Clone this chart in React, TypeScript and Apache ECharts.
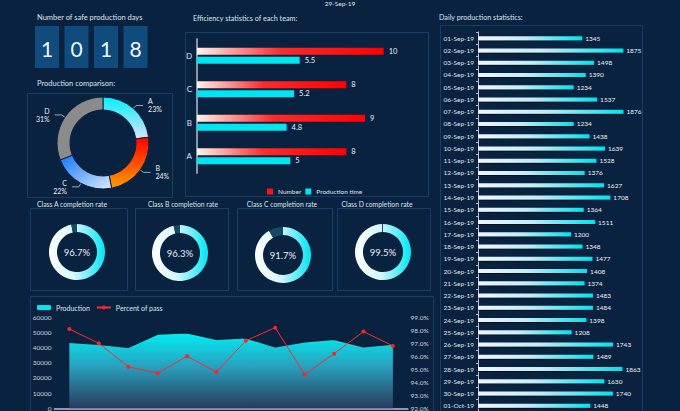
import React, { useEffect, useRef } from 'react';
import * as echarts from 'echarts';

const topDate = '29-Sep-19';
const safeDays = ['1', '0', '1', '8'];

const teams = ['A', 'B', 'C', 'D'];
const teamNumber = [8, 9, 8, 10];
const teamTime = [5, 4.8, 5.2, 5.5];

const shareNames = ['A', 'B', 'C', 'D'];
const shareValues = [23, 24, 22, 31];

const classTitles = ['Class A completion rate', 'Class B completion rate', 'Class C completion rate', 'Class D completion rate'];
const completionRates = [96.7, 96.3, 91.7, 99.5];

const dailyDates = [
  '01-Sep-19', '02-Sep-19', '03-Sep-19', '04-Sep-19', '05-Sep-19', '06-Sep-19', '07-Sep-19', '08-Sep-19',
  '09-Sep-19', '10-Sep-19', '11-Sep-19', '12-Sep-19', '13-Sep-19', '14-Sep-19', '15-Sep-19', '16-Sep-19',
  '17-Sep-19', '18-Sep-19', '19-Sep-19', '20-Sep-19', '21-Sep-19', '22-Sep-19', '23-Sep-19', '24-Sep-19',
  '25-Sep-19', '26-Sep-19', '27-Sep-19', '28-Sep-19', '29-Sep-19', '30-Sep-19', '01-Oct-19',
];
const dailyValues = [
  1345, 1875, 1498, 1390, 1234, 1537, 1876, 1234,
  1438, 1639, 1528, 1376, 1627, 1708, 1364, 1511,
  1200, 1348, 1477, 1408, 1374, 1483, 1484, 1398,
  1208, 1743, 1489, 1863, 1630, 1740, 1448,
];

const periods = ['Jan', 'Feb', 'Mar', 'Apr', 'May', 'Jun', 'Jul', 'Aug', 'Sep', 'Oct', 'Nov', 'Dec'];
const production = [43500, 42200, 40200, 49000, 49800, 45500, 46500, 40600, 43900, 45500, 40600, 42400];
const passRate = [98.1, 97.0, 95.2, 94.7, 96.0, 94.8, 97.2, 98.2, 94.6, 96.2, 97.9, 96.8];

const BG = '#09223f';
const BORDER = '#1c3d63';
const TXT = '#dde6f0';
const FONT = 'Lato, "Noto Sans", sans-serif';

const ringCenters: [number, number][] = [[77, 252], [180, 253], [283, 255], [383, 252]];
const titleX = [72, 183, 282, 377];

function panel(x: number, y: number, w: number, h: number) {
  return { type: 'rect', shape: { x, y, width: w, height: h }, style: { fill: 'none', stroke: BORDER, lineWidth: 1 }, silent: true };
}
function label(text: string, x: number, y: number, size = 7.5, align = 'left', color = TXT) {
  return { type: 'text', x, y, style: { text, fill: color, fontSize: size, fontFamily: FONT, align, verticalAlign: 'middle' }, silent: true };
}

export default function App() {
  const ref = useRef<HTMLDivElement>(null);
  useEffect(() => {
    document.body.style.margin = '0';
    const chart = echarts.init(ref.current!, null, { renderer: 'svg' });

    const graphics: any[] = [
      panel(27.5, 93.5, 145, 104),
      panel(185.5, 32.5, 243, 164),
      panel(440.5, 25.5, 202, 400),
      panel(30.5, 208.5, 97, 82),
      panel(135.5, 208.5, 93, 82),
      panel(237.5, 208.5, 95, 82),
      panel(337.5, 208.5, 93, 82),
      panel(30.5, 296.5, 403, 130),
      { type: 'text', x: 340, y: 0, style: { text: topDate, fill: TXT, fontSize: 6.5, fontFamily: FONT, align: 'center', verticalAlign: 'top' }, silent: true },
      label('Number of safe production days', 37, 17),
      label('Production comparison:', 37, 83),
      label('Efficiency statistics of each team:', 193, 18, 7.2),
      label('Daily production statistics:', 439, 17, 7.2),
    ];
    classTitles.forEach((t, i) => graphics.push(label(t, titleX[i], 204, 6.8, 'center')));
    safeDays.forEach((d, i) => {
      const x = 35 + i * 29.5;
      graphics.push({ type: 'rect', shape: { x, y: 26, width: 24, height: 42 }, style: { fill: '#0f4b7d' }, silent: true });
      graphics.push({ type: 'text', x: x + 12, y: 48, style: { text: d, fill: '#f2f6fa', fontSize: 21, fontFamily: FONT, align: 'center', verticalAlign: 'middle' }, silent: true });
    });

    const shareColors = [
      new echarts.graphic.LinearGradient(0, 0, 0, 1, [{ offset: 0, color: '#00f0ff' }, { offset: 1, color: '#d8e4f2' }]),
      new echarts.graphic.LinearGradient(0, 0, 0, 1, [{ offset: 0, color: '#ff0000' }, { offset: 1, color: '#ff9c00' }]),
      new echarts.graphic.LinearGradient(0, 0, 1, 1, [{ offset: 0, color: '#0f74ff' }, { offset: 1, color: '#dde9f8' }]),
      '#8b8b8b',
    ];

    const ringSeries = completionRates.map((v, i) => ({
      type: 'pie',
      name: classTitles[i],
      center: ringCenters[i],
      radius: [20, 28],
      startAngle: 90,
      clockwise: true,
      silent: true,
      labelLine: { show: false },
      data: [
        {
          value: v,
          name: 'done' + i,
          itemStyle: { color: new echarts.graphic.LinearGradient(0, 0, 1, 0, [{ offset: 0, color: '#ffffff' }, { offset: 0.45, color: '#d6f6fb' }, { offset: 1, color: '#00e6f4' }]) },
          label: { show: true, position: 'center', formatter: '{c}%', color: '#e8eef6', fontSize: 9.5, fontFamily: FONT },
        },
        {
          value: +(100 - v).toFixed(1),
          name: 'rest' + i,
          itemStyle: { color: '#124a68' },
          label: { show: false },
        },
      ],
    }));

    const option: any = {
      animation: false,
      backgroundColor: BG,
      textStyle: { fontFamily: FONT },
      graphic: graphics,
      legend: [
        {
          left: 262, top: 183, itemWidth: 6, itemHeight: 6, itemGap: 4,
          textStyle: { color: TXT, fontSize: 6.5 },
          data: [
            { name: 'Number', icon: 'rect', itemStyle: { color: '#ff1010' } },
            { name: 'Production time', icon: 'rect', itemStyle: { color: '#00e6f0' } },
          ],
        },
        {
          left: 32, top: 299, itemWidth: 14, itemHeight: 5, itemGap: 6,
          textStyle: { color: TXT, fontSize: 7 },
          data: [
            { name: 'Production', icon: 'roundRect', itemStyle: { color: '#00e6f0' } },
            { name: 'Percent of pass' },
          ],
        },
      ],
      grid: [
        { left: 197, top: 39, width: 224, height: 134, outerBoundsMode: 'none' },
        { left: 478, top: 32, width: 155, height: 380, outerBoundsMode: 'none' },
        { left: 54.6, top: 317.3, width: 353, height: 91, outerBoundsMode: 'none' },
      ],
      xAxis: [
        { gridIndex: 0, type: 'value', min: 0, max: 12, show: false },
        { gridIndex: 1, type: 'value', min: 0, max: 2000, show: false },
        {
          gridIndex: 2, type: 'category', data: periods,
          axisLine: { lineStyle: { color: '#8c9bb0', width: 2 } },
          axisTick: { show: false }, axisLabel: { show: false },
        },
      ],
      yAxis: [
        {
          gridIndex: 0, type: 'category', data: teams,
          axisLine: { lineStyle: { color: '#8a96a8', width: 2 } },
          axisTick: { show: false },
          axisLabel: { color: TXT, fontSize: 8, margin: 5 },
        },
        {
          gridIndex: 1, type: 'category', data: dailyDates, inverse: true,
          axisLine: { lineStyle: { color: '#b8c2ce', width: 1 } },
          axisTick: { show: true, length: 2, lineStyle: { color: '#b8c2ce' } },
          axisLabel: { color: TXT, fontSize: 6.5, margin: 4 },
        },
        {
          gridIndex: 2, type: 'value', min: 0, max: 60000, interval: 10000,
          axisLine: { show: false }, axisTick: { show: false }, splitLine: { show: false },
          axisLabel: { color: '#c8d2de', fontSize: 6.5, margin: 3, formatter: (v: number) => String(v) },
        },
        {
          gridIndex: 2, type: 'value', min: 92, max: 99, interval: 1, position: 'right',
          axisLine: { show: false }, axisTick: { show: false }, splitLine: { show: false },
          axisLabel: { color: '#c8d2de', fontSize: 6.5, margin: 3, formatter: (v: number) => v.toFixed(1) + '%' },
        },
      ],
      series: [
        {
          type: 'bar', name: 'Number', xAxisIndex: 0, yAxisIndex: 0,
          data: teamNumber, barWidth: 7, barGap: '30%',
          itemStyle: {
            color: new echarts.graphic.LinearGradient(0, 0, 1, 0, [
              { offset: 0, color: '#fff4ec' }, { offset: 0.45, color: '#ff2a2a' }, { offset: 1, color: '#ff0000' },
            ]),
          },
          label: { show: true, position: 'right', distance: 5, color: '#eef3f8', fontSize: 7.5 },
        },
        {
          type: 'bar', name: 'Production time', xAxisIndex: 0, yAxisIndex: 0,
          data: teamTime, barWidth: 7, barGap: '30%',
          itemStyle: { color: '#00e6f0' },
          label: { show: true, position: 'right', distance: 5, color: '#eef3f8', fontSize: 7.5 },
        },
        {
          type: 'bar', name: 'Daily', xAxisIndex: 1, yAxisIndex: 1,
          data: dailyValues, barWidth: 4,
          itemStyle: {
            color: new echarts.graphic.LinearGradient(0, 0, 1, 0, [
              { offset: 0, color: '#eef6ff' }, { offset: 0.45, color: '#c4ecf5' }, { offset: 1, color: '#00e2ee' },
            ]),
            shadowColor: 'rgba(0,0,0,0.6)', shadowOffsetY: 1, shadowBlur: 1,
          },
          label: { show: true, position: 'right', distance: 3, color: '#eef3f8', fontSize: 6.5 },
        },
        {
          type: 'line', name: 'Production', xAxisIndex: 2, yAxisIndex: 2,
          data: production, showSymbol: false, symbol: 'none',
          itemStyle: { color: '#00e6f0' },
          lineStyle: { color: '#0b1c33', width: 1.5 },
          areaStyle: {
            opacity: 1,
            color: new echarts.graphic.LinearGradient(0, 0, 0, 1, [
              { offset: 0, color: '#00eef4' }, { offset: 0.45, color: '#2a9fbd' }, { offset: 1, color: '#283a5c' },
            ]),
          },
        },
        {
          type: 'line', name: 'Percent of pass', xAxisIndex: 2, yAxisIndex: 3,
          data: passRate, symbol: 'circle', symbolSize: 4,
          itemStyle: { color: '#ff2222' },
          lineStyle: { color: '#ff2a2a', width: 1 },
        },
        {
          type: 'pie', name: 'Production comparison',
          center: [103, 143], radius: [33, 46],
          startAngle: 90, clockwise: true,
          itemStyle: { borderColor: BG, borderWidth: 1 },
          label: { formatter: '{b}\n{d}%', color: '#e8eef5', fontSize: 7, lineHeight: 8 },
          labelLine: { length: 4, length2: 7, lineStyle: { color: '#9aa6b4' } },
          data: shareNames.map((n, i) => ({ name: n, value: shareValues[i], itemStyle: { color: shareColors[i] } })),
        },
        ...ringSeries,
      ],
    };
    chart.setOption(option);
    return () => chart.dispose();
  }, []);
  return <div ref={ref} style={{ position: 'fixed', left: 0, top: 0, width: 680, height: 411 }} />;
}
